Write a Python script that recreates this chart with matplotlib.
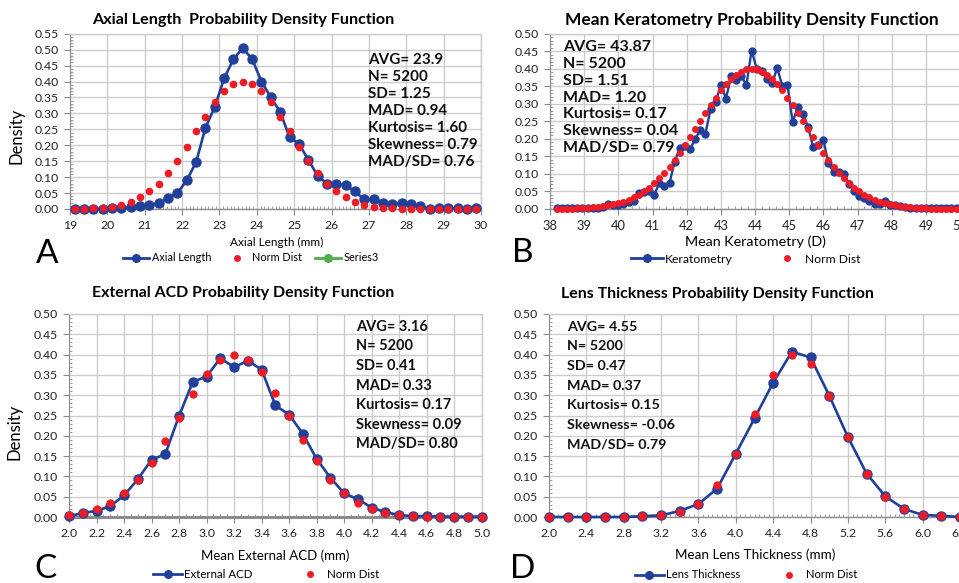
import matplotlib
matplotlib.use('Agg')
import matplotlib.pyplot as plt
import numpy as np
from matplotlib.lines import Line2D
from matplotlib.ticker import MultipleLocator, FormatStrFormatter

plt.rcParams['font.family'] = ['Lato', 'DejaVu Sans']

# ---------------- data ----------------
# A: Axial length
axial_x = np.arange(19.125, 29.9, 0.25)
axial_obs = [0.000, 0.000, 0.000, 0.000, 0.002, 0.002, 0.005, 0.008, 0.012, 0.018,
             0.035, 0.050, 0.090, 0.147, 0.255, 0.320, 0.410, 0.470, 0.505, 0.470,
             0.400, 0.350, 0.305, 0.225, 0.205, 0.155, 0.105, 0.080, 0.078, 0.075,
             0.055, 0.030, 0.030, 0.018, 0.015, 0.018, 0.016, 0.008, 0.000, 0.002,
             0.003, 0.002, 0.000, 0.002]
axial_norm = [0.001, 0.001, 0.002, 0.004, 0.007, 0.013, 0.022, 0.037, 0.057, 0.080,
              0.113, 0.152, 0.195, 0.245, 0.290, 0.335, 0.370, 0.393, 0.400, 0.393,
              0.370, 0.335, 0.290, 0.245, 0.195, 0.152, 0.113, 0.080, 0.057, 0.037,
              0.022, 0.013, 0.007, 0.004, 0.002, 0.001, 0.001, 0.000, 0.000, 0.000,
              0.000, 0.000, 0.000, 0.000]

# B: Mean keratometry
kera_x = np.round(38.2 + 0.15 * np.arange(79), 2)
kera_obs = [0.002, 0.003, 0.002, 0.003, 0.003, 0.002, 0.003, 0.004, 0.003, 0.005,
            0.015, 0.010, 0.012, 0.015, 0.020, 0.022, 0.045, 0.048, 0.050, 0.040,
            0.075, 0.065, 0.075, 0.135, 0.175, 0.180, 0.170, 0.200, 0.225, 0.215,
            0.285, 0.305, 0.355, 0.315, 0.378, 0.368, 0.378, 0.355, 0.452, 0.400,
            0.393, 0.370, 0.358, 0.403, 0.350, 0.355, 0.248, 0.290, 0.270, 0.235,
            0.178, 0.183, 0.198, 0.130, 0.105, 0.105, 0.100, 0.072, 0.050, 0.038,
            0.030, 0.022, 0.015, 0.015, 0.022, 0.010, 0.012, 0.008, 0.005, 0.004,
            0.003, 0.003, 0.002, 0.004, 0.004, 0.004, 0.002, 0.002, 0.002]
kera_norm = [0.0005, 0.0007, 0.0009, 0.0013, 0.0018, 0.0025, 0.0033, 0.0045, 0.0059, 0.0078,
             0.010, 0.013, 0.017, 0.021, 0.027, 0.034, 0.041, 0.050, 0.061, 0.074,
             0.088, 0.103, 0.120, 0.139, 0.160, 0.182, 0.204, 0.227, 0.250, 0.273,
             0.296, 0.318, 0.338, 0.356, 0.371, 0.383, 0.392, 0.398, 0.400, 0.398,
             0.392, 0.383, 0.371, 0.356, 0.338, 0.318, 0.296, 0.273, 0.250, 0.227,
             0.204, 0.182, 0.160, 0.139, 0.120, 0.103, 0.088, 0.074, 0.061, 0.050,
             0.041, 0.034, 0.027, 0.021, 0.017, 0.013, 0.010, 0.0078, 0.0059, 0.0045,
             0.0033, 0.0025, 0.0018, 0.0013, 0.0009, 0.0007, 0.0005, 0.0004, 0.0003]

# C: External ACD
acd_x = np.round(np.arange(2.0, 5.01, 0.1), 1)
acd_obs = [0.002, 0.010, 0.015, 0.027, 0.053, 0.093, 0.141, 0.155, 0.249, 0.333,
           0.346, 0.391, 0.369, 0.385, 0.363, 0.275, 0.252, 0.205, 0.143, 0.097,
           0.058, 0.044, 0.023, 0.012, 0.005, 0.002, 0.002, 0.001, 0.001, 0.001, 0.001]
acd_norm = [0.005, 0.011, 0.019, 0.034, 0.058, 0.090, 0.133, 0.186, 0.243, 0.302,
            0.352, 0.387, 0.400, 0.387, 0.356, 0.305, 0.248, 0.189, 0.137, 0.092,
            0.058, 0.035, 0.019, 0.010, 0.005, 0.002, 0.001, 0.001, 0.000, 0.000, 0.000]

# D: Lens thickness
lens_x = np.round(np.arange(2.0, 6.41, 0.2), 1)
lens_obs = [0.000, 0.000, 0.000, 0.000, 0.000, 0.002, 0.004, 0.015, 0.032, 0.070,
            0.156, 0.243, 0.331, 0.407, 0.393, 0.299, 0.197, 0.107, 0.051, 0.020,
            0.005, 0.003, 0.000]
lens_norm = [0.000, 0.000, 0.000, 0.000, 0.000, 0.002, 0.004, 0.013, 0.033, 0.078,
             0.156, 0.254, 0.349, 0.399, 0.377, 0.299, 0.197, 0.107, 0.049, 0.019,
             0.004, 0.003, 0.000]

stats_A = ["AVG= 23.9", "N= 5200", "SD= 1.25", "MAD= 0.94", "Kurtosis= 1.60",
           "Skewness= 0.79", "MAD/SD= 0.76"]
stats_B = ["AVG= 43.87", "N= 5200", "SD= 1.51", "MAD= 1.20", "Kurtosis= 0.17",
           "Skewness= 0.04", "MAD/SD= 0.79"]
stats_C = ["AVG= 3.16", "N= 5200", "SD= 0.41", "MAD= 0.33", "Kurtosis= 0.17",
           "Skewness= 0.09", "MAD/SD= 0.80"]
stats_D = ["AVG= 4.55", "N= 5200", "SD= 0.47", "MAD= 0.37", "Kurtosis= 0.15",
           "Skewness= -0.06", "MAD/SD= 0.79"]

# ---------------- figure ----------------
W, H = 959, 583
fig = plt.figure(figsize=(W / 100, H / 100), dpi=100)

BLUE = '#21409A'
RED = '#EE1C25'
GREEN = '#4DAF4A'
GRID = '#CCCCCC'
AXC = '#8C8C8C'


def px_axes(l, r, t, b):
    return fig.add_axes([l / W, 1 - b / H, (r - l) / W, (b - t) / H])


def ftext(x, y, s, **kw):
    return fig.text(x / W, 1 - y / H, s, **kw)


def style(ax, xlim, xmaj, xminor, xfmt, ylim, ymin_step, bottom_lw=1.0, xls=8.8):
    ax.set_xlim(*xlim)
    ax.set_ylim(*ylim)
    ax.xaxis.set_major_locator(MultipleLocator(xmaj))
    ax.xaxis.set_minor_locator(MultipleLocator(xminor))
    ax.xaxis.set_major_formatter(FormatStrFormatter(xfmt))
    ax.yaxis.set_major_locator(MultipleLocator(0.05))
    ax.yaxis.set_minor_locator(MultipleLocator(ymin_step))
    ax.yaxis.set_major_formatter(FormatStrFormatter('%.2f'))
    ax.grid(True, which='major', color=GRID, lw=1.0)
    ax.set_axisbelow(True)
    for s in ['top', 'right']:
        ax.spines[s].set_color(GRID)
        ax.spines[s].set_linewidth(1.0)
    ax.spines['left'].set_color(AXC)
    ax.spines['bottom'].set_color(AXC)
    ax.spines['bottom'].set_linewidth(bottom_lw)
    ax.tick_params(which='major', length=4, color=AXC, labelsize=8.8, labelcolor='#222222', pad=4)
    ax.tick_params(axis='x', which='major', labelsize=xls)
    ax.tick_params(which='minor', length=2.5, color=AXC, direction='in')


def plot_panel(ax, x, obs, norm, ms_b, ms_r, lw):
    ax.plot(x, obs, color=BLUE, lw=lw, marker='o', ms=ms_b, mec=BLUE, mfc=BLUE, zorder=3,
            clip_on=False)
    ax.plot(x, norm, ls='none', marker='o', ms=ms_r, mfc=RED, mec=RED, zorder=4, clip_on=False)


def stats(x, y0, dy, lines, size):
    for i, s in enumerate(lines):
        ftext(x, y0 + i * dy, s, fontsize=size, fontweight='bold', va='center', ha='left',
              color='#111111')


def legend(cx, cy, label, fs, hl, cs, with_series3=False):
    hs = [Line2D([], [], color=BLUE, lw=2, marker='o', ms=5.5),
          Line2D([], [], ls='none', color=RED, marker='o', ms=4)]
    ls = [label, 'Norm Dist']
    if with_series3:
        hs.append(Line2D([], [], color=GREEN, lw=2, marker='o', ms=5.5))
        ls.append('Series3')
    fig.legend(hs, ls, loc='center', bbox_to_anchor=(cx / W, 1 - cy / H), ncol=len(hs),
               frameon=False, fontsize=fs, handlelength=hl, columnspacing=cs,
               handletextpad=0.2, borderpad=0)


# ---- A ----
axA = px_axes(70, 481, 33.7, 209)
style(axA, (19, 30), 1, 0.1, '%d', (0, 0.55), 0.01)
plot_panel(axA, axial_x, axial_obs, axial_norm, 6.5, 4.5, 1.9)
ftext(243, 20, 'Axial Length  Probability Density Function', fontsize=11.6, fontweight='bold',
      ha='center', va='center')
ftext(17, 136, 'Density', fontsize=12, rotation=90, ha='center', va='center')
ftext(277, 242, 'Axial Length (mm)', fontsize=8.5, ha='center', va='center')
ftext(47, 254, 'A', fontsize=24, ha='center', va='center')
stats(368, 60, 17, stats_A, 11)
legend(251, 258, 'Axial Length', 7.8, 2.4, 1.2, with_series3=True)

# ---- B ----
axB = px_axes(550, 960, 33.7, 209)
style(axB, (38, 50), 1, 0.2, '%d', (0, 0.50), 0.01, xls=9.3)
plot_panel(axB, kera_x, kera_obs, kera_norm, 5.0, 4.0, 1.7)
ftext(752, 20, 'Mean Keratometry Probability Density Function', fontsize=12.5,
      fontweight='bold', ha='center', va='center')
ftext(755, 242, 'Mean Keratometry (D)', fontsize=10.3, ha='center', va='center')
ftext(523, 253, 'B', fontsize=24, ha='center', va='center')
stats(563, 47.3, 16.8, stats_B, 11.5)
legend(746, 259, 'Keratometry', 8.7, 2.6, 3.2)

# ---- C ----
axC = px_axes(69, 481.7, 314, 517)
style(axC, (2.0, 5.0), 0.2, 0.05, '%.1f', (0, 0.50), 0.01, bottom_lw=2.2)
plot_panel(axC, acd_x, acd_obs, acd_norm, 6.5, 5.0, 1.9)
ftext(243, 293, 'External ACD Probability Density Function', fontsize=11.4,
      fontweight='bold', ha='center', va='center')
ftext(15, 432, 'Density', fontsize=12, rotation=90, ha='center', va='center')
ftext(275, 556, 'Mean External ACD (mm)', fontsize=9.5, ha='center', va='center')
ftext(45, 569, 'C', fontsize=24, ha='center', va='center')
stats(356, 326.7, 19.6, stats_C, 10.5)
legend(266, 575, 'External ACD', 8.3, 2.5, 3.7)

# ---- D ----
axD = px_axes(549, 960, 314, 517)
style(axD, (2.0, 6.4), 0.4, 0.05, '%.1f', (0, 0.50), 0.01)
plot_panel(axD, lens_x, lens_obs, lens_norm, 6.5, 5.0, 1.9)
ftext(717, 294, 'Lens Thickness Probability Density Function', fontsize=11.4,
      fontweight='bold', ha='center', va='center')
ftext(755, 555, 'Mean Lens Thickness (mm)', fontsize=9.7, ha='center', va='center')
ftext(523, 569, 'D', fontsize=24, ha='center', va='center')
stats(567, 326.7, 19.6, stats_D, 10.3)
legend(746, 575, 'Lens Thickness', 8.1, 2.6, 3.0)

fig.savefig('out.png', dpi=100)
